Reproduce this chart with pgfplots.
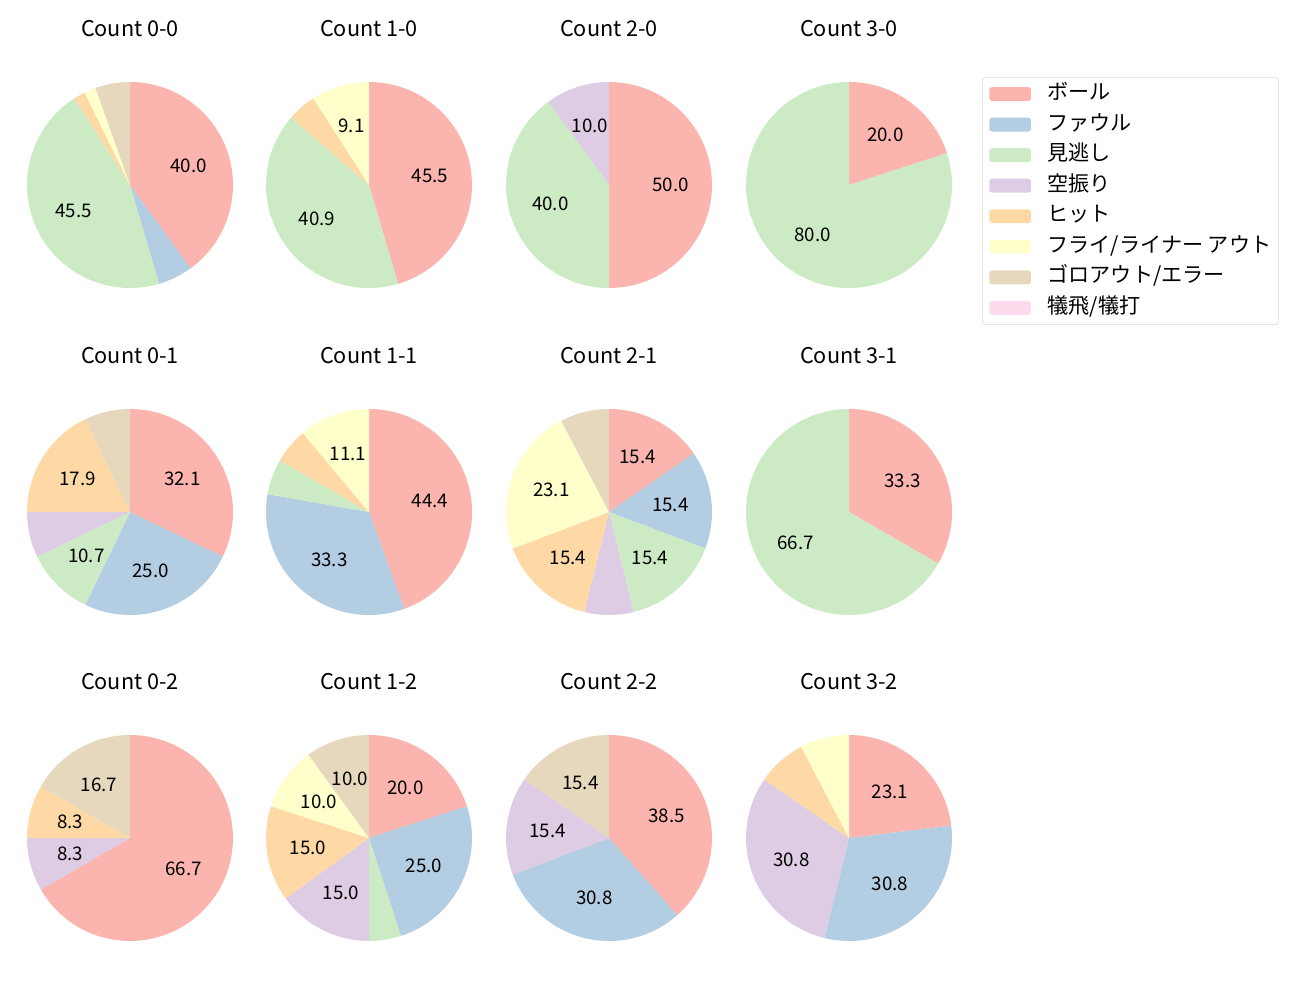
\documentclass[border=0pt]{standalone}
\usepackage{fontspec}
\setmainfont{Noto Sans CJK JP}
\usepackage{pgfplots}
\pgfplotsset{compat=1.18}
\definecolor{cA}{HTML}{FBB4AE}
\definecolor{cB}{HTML}{B3CDE3}
\definecolor{cC}{HTML}{CCEBC5}
\definecolor{cD}{HTML}{DECBE4}
\definecolor{cE}{HTML}{FED9A6}
\definecolor{cF}{HTML}{FFFFCC}
\definecolor{cG}{HTML}{E5D8BD}
\definecolor{cH}{HTML}{FDDAEC}
\newcommand{\lblfont}{\fontsize{13.5}{16}\selectfont}
\pgfplotsset{pieaxis/.style={anchor=center, scale only axis, width=148.3pt, height=148.3pt,
  xmin=-1,xmax=1,ymin=-1,ymax=1, hide axis, clip=false,
  title style={at={(axis description cs:0.5,1)}, anchor=center, yshift=32.5pt, font=\fontsize{15.6}{18}\selectfont}}}
\newcommand{\pie}[5]{%
\begin{axis}[pieaxis, at={(#1*0.72pt,-#2*0.72pt)}, title={#3}]
\xdef\cum{0}%
\foreach \pv/\pc/\pl in {#5}{%
 \pgfmathsetmacro\a{90-360*(\cum/#4)}%
 \pgfmathsetmacro\b{90-360*((\cum+\pv)/#4)}%
 \pgfmathsetmacro\ca{cos(\a)}%
 \pgfmathsetmacro\sa{sin(\a)}%
 \edef\temp{\noexpand\fill[\pc] (axis cs:0,0) -- (axis cs:\ca,\sa) arc[start angle=\a, end angle=\b, radius=1] -- cycle;}%
 \temp
 \pgfmathsetmacro\nc{\cum+\pv}%
 \xdef\cum{\nc}%
}%
\xdef\cum{0}%
\foreach \pv/\pc/\pl in {#5}{%
 \pgfmathsetmacro\a{90-360*(\cum/#4)}%
 \pgfmathsetmacro\b{90-360*((\cum+\pv)/#4)}%
 \pgfmathsetmacro\m{(\a+\b)/2}%
 \pgfmathsetmacro\lx{0.6*cos(\m)}%
 \pgfmathsetmacro\ly{0.6*sin(\m)}%
 \edef\temp{\noexpand\node[font=\noexpand\lblfont, inner sep=0pt] at (axis cs:\lx,\ly) {\pl};}%
 \temp
 \pgfmathsetmacro\nc{\cum+\pv}%
 \xdef\cum{\nc}%
}%
\end{axis}}
\begin{document}
\begin{tikzpicture}
\path[use as bounding box] (0,0) rectangle (1300*0.72pt,-1000*0.72pt);
\pie{130}{185}{Count 0-0}{55}{22/cA/40.0, 3/cB/, 25/cC/45.5, 1/cE/, 1/cF/, 3/cG/}
\pie{369}{185}{Count 1-0}{22}{10/cA/45.5, 9/cC/40.9, 1/cE/, 2/cF/9.1}
\pie{609}{185}{Count 2-0}{10}{5/cA/50.0, 4/cC/40.0, 1/cD/10.0}
\pie{849}{185}{Count 3-0}{5}{1/cA/20.0, 4/cC/80.0}
\pie{130}{512}{Count 0-1}{28}{9/cA/32.1, 7/cB/25.0, 3/cC/10.7, 2/cD/, 5/cE/17.9, 2/cG/}
\pie{369}{512}{Count 1-1}{18}{8/cA/44.4, 6/cB/33.3, 1/cC/, 1/cE/, 2/cF/11.1}
\pie{609}{512}{Count 2-1}{13}{2/cA/15.4, 2/cB/15.4, 2/cC/15.4, 1/cD/, 2/cE/15.4, 3/cF/23.1, 1/cG/}
\pie{849}{512}{Count 3-1}{3}{1/cA/33.3, 2/cC/66.7}
\pie{130}{838}{Count 0-2}{12}{8/cA/66.7, 1/cD/8.3, 1/cE/8.3, 2/cG/16.7}
\pie{369}{838}{Count 1-2}{20}{4/cA/20.0, 5/cB/25.0, 1/cC/, 3/cD/15.0, 3/cE/15.0, 2/cF/10.0, 2/cG/10.0}
\pie{609}{838}{Count 2-2}{13}{5/cA/38.5, 4/cB/30.8, 2/cD/15.4, 2/cG/15.4}
\pie{849}{838}{Count 3-2}{13}{3/cA/23.1, 4/cB/30.8, 4/cD/30.8, 1/cE/, 1/cF/}
% legend
\begin{axis}[pieaxis, at={(849*0.72pt,-185*0.72pt)},
  legend cell align=left,
  legend image code/.code={\fill (0pt,-5pt) rectangle (30pt,5pt);},
  legend style={at={(axis description cs:1.146,1.024)}, anchor=north west,
    draw=black!15, rounded corners=2pt, inner xsep=5pt, inner ysep=6pt,
    font=\fontsize{15.2}{17}\selectfont,
    nodes={inner sep=0pt, text height=10pt, text depth=2pt},
    row sep=10pt,
    /tikz/every odd column/.append style={column sep=12pt}}]
\addlegendimage{fill=cA, draw=none}\addlegendentry{ボール}
\addlegendimage{fill=cB, draw=none}\addlegendentry{ファウル}
\addlegendimage{fill=cC, draw=none}\addlegendentry{見逃し}
\addlegendimage{fill=cD, draw=none}\addlegendentry{空振り}
\addlegendimage{fill=cE, draw=none}\addlegendentry{ヒット}
\addlegendimage{fill=cF, draw=none}\addlegendentry{フライ/ライナー アウト}
\addlegendimage{fill=cG, draw=none}\addlegendentry{ゴロアウト/エラー}
\addlegendimage{fill=cH, draw=none}\addlegendentry{犠飛/犠打}
\end{axis}
\end{tikzpicture}
\end{document}
